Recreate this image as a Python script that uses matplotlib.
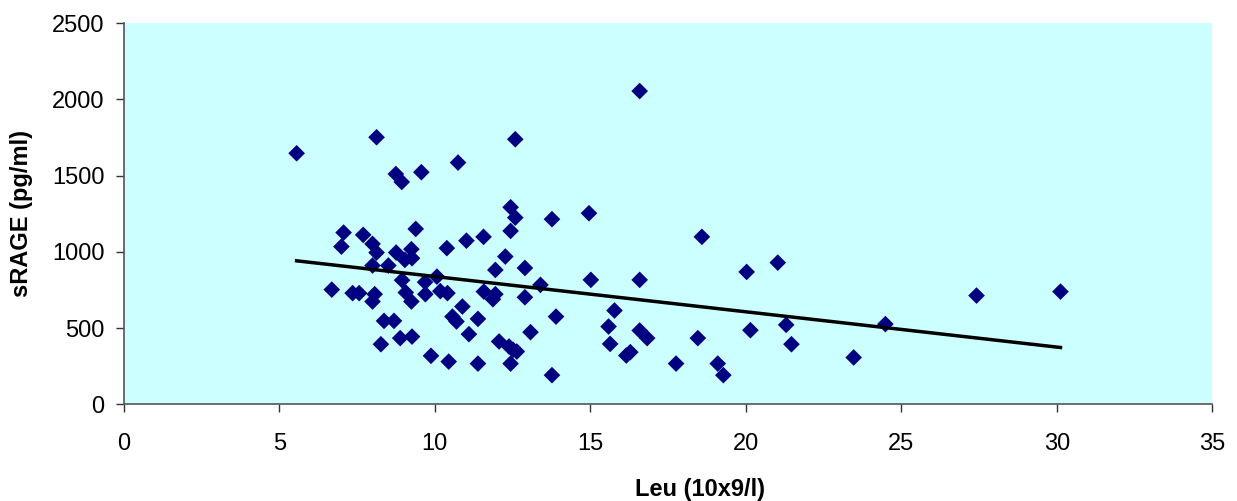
import numpy as np
import matplotlib
matplotlib.use('Agg')
import matplotlib.pyplot as plt

# Leukocyte count vs soluble RAGE
leu = [5.56, 6.69, 7.07, 7.00, 7.36, 7.57, 7.70, 8.13, 8.00, 8.13,
       8.00, 8.07, 8.00, 8.27, 8.37, 8.51, 8.75, 8.94, 8.76, 8.95,
       8.69, 8.89, 9.07, 9.04, 9.27, 9.25, 9.25, 9.27, 9.39, 9.57,
       9.70, 9.69, 9.88, 10.07, 10.18, 10.41, 10.39, 10.45, 10.57, 10.70,
       10.75, 10.89, 11.02, 11.10, 11.39, 11.39, 11.57, 11.58, 11.95, 11.87,
       11.95, 12.07, 12.27, 12.39, 12.52, 12.64, 12.44, 12.59, 12.44, 12.44,
       12.59, 12.90, 12.90, 13.08, 13.40, 13.77, 13.77, 13.90, 14.96, 15.02,
       15.59, 15.64, 15.78, 16.16, 16.29, 16.59, 16.59, 16.59, 16.83, 17.76,
       18.46, 18.59, 19.10, 19.28, 20.03, 20.15, 21.03, 21.30, 21.47, 23.47,
       24.49, 27.42, 30.12]
srage = [1646, 752, 1126, 1034, 729, 729, 1111, 1751, 1052, 995,
         910, 722, 674, 394, 547, 910, 1510, 1458, 995, 814,
         547, 434, 733, 947, 958, 1017, 674, 444, 1150, 1522,
         722, 801, 318, 837, 742, 729, 1024, 280, 575, 543,
         1585, 641, 1073, 460, 560, 267, 1098, 739, 722, 689,
         881, 412, 969, 379, 357, 346, 1292, 1224, 1137, 267,
         1738, 894, 702, 473, 783, 191, 1214, 575, 1253, 816,
         510, 396, 615, 320, 342, 2054, 816, 484, 434, 267,
         434, 1098, 267, 191, 868, 486, 929, 521, 394, 307,
         526, 713, 739]

x_ticks = [0, 5, 10, 15, 20, 25, 30, 35]
y_ticks = [0, 500, 1000, 1500, 2000, 2500]

plt.rcParams['font.family'] = ['Liberation Sans', 'DejaVu Sans']

fig = plt.figure(figsize=(12.37, 5.01), dpi=100)
ax = fig.add_axes([0.1, 0.193, 0.88, 0.761])
ax.set_facecolor('#ccffff')

ax.scatter(leu, srage, marker='D', s=72, color='#000080', edgecolors='none', zorder=3)

# linear trend line over the data range
coef = np.polyfit(leu, srage, 1)
xs = np.array([min(leu), max(leu)])
ax.plot(xs, np.polyval(coef, xs), color='black', linewidth=2.5, zorder=4)

ax.set_xlim(0, 35)
ax.set_ylim(0, 2500)
ax.set_xticks(x_ticks)
ax.set_yticks(y_ticks)

for side in ['top', 'right']:
    ax.spines[side].set_visible(False)
for side in ['left', 'bottom']:
    ax.spines[side].set_color('#555555')
    ax.spines[side].set_linewidth(1.2)

ax.tick_params(axis='x', direction='out', length=6, width=1, color='#333333',
               labelsize=17, pad=15)
ax.tick_params(axis='y', direction='out', length=6, width=1, color='#333333',
               labelsize=17, pad=8)

ax.set_xlabel('Leu (10x9/l)', fontsize=17, fontweight='bold')
ax.set_ylabel('sRAGE (pg/ml)', fontsize=17, fontweight='bold')
ax.xaxis.set_label_coords(0.529, -0.193)
ax.yaxis.set_label_coords(-0.083, 0.5)

fig.savefig('out.png', dpi=100)
